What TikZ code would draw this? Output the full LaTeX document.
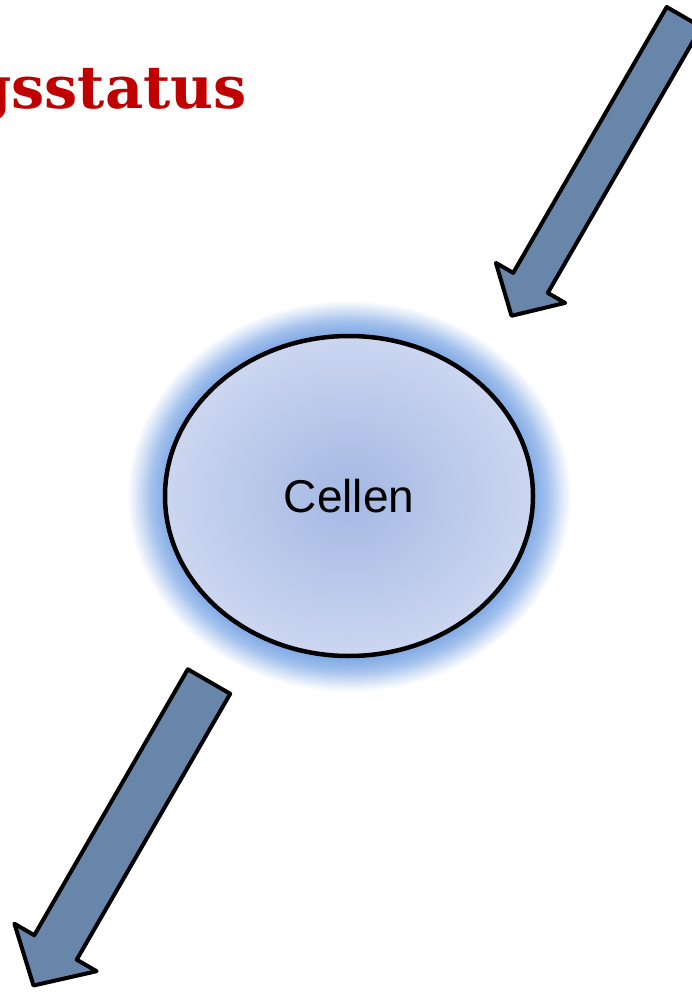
\documentclass[tikz,border=0pt]{standalone}
\usepackage{fontspec}
\usetikzlibrary{shapes.geometric}
\newfontfamily\titlefont{DejaVu Serif}
\newfontfamily\labelfont{Liberation Sans}
\definecolor{titlered}{RGB}{192,0,0}
\definecolor{arrowfill}{RGB}{104,134,170}
\definecolor{glowblue}{RGB}{132,172,230}
\definecolor{cellin}{RGB}{164,184,228}
\definecolor{cellout}{RGB}{204,214,240}
% soft halo round the cell and the cell's own fill (25bp = edge of the path)
\pgfdeclareradialshading{cellglow}{\pgfpoint{0bp}{0bp}}{color(0bp)=(glowblue); color(20.8bp)=(glowblue); color(22.3bp)=(glowblue!75!white); color(23.7bp)=(glowblue!35!white); color(25bp)=(white); color(50bp)=(white)}
\pgfdeclareradialshading{cellbody}{\pgfpoint{0bp}{0bp}}{color(0bp)=(cellin); color(25bp)=(cellout); color(50bp)=(cellout)}
\begin{document}
\begin{tikzpicture}[x=1pt,y=-1pt,
  blockarrow/.style={draw=black, fill=arrowfill, line width=4pt, line join=round},
  cell/.style={ellipse, draw=black, line width=4.5pt, minimum width=368pt,
    minimum height=320pt, inner sep=0pt, shading=cellbody,
    font=\labelfont\fontsize{46}{46}\selectfont},
  heading/.style={anchor=base east, inner sep=0pt, text=titlered,
    font=\titlefont\bfseries\fontsize{59}{59}\selectfont}]
\useasboundingbox (0,0) rectangle (692,992);
\fill[white] (0,0) rectangle (692,992);
\clip (0,0) rectangle (692,992);

% title (runs off the left edge)
\node[heading] (title) at (247,109) {gsstatus};

% incoming arrow, top right
\coordinate (inTailL) at (666.7,7);
\coordinate (inTailR) at (701.3,27);
\draw[blockarrow] (inTailL) -- (513.2,272.9) -- (495.9,262.9) -- (511.5,315.8)
  -- (565.1,302.9) -- (547.8,292.9) -- (inTailR) -- cycle;

% cell with halo
\shade[shading=cellglow] (349,496) ellipse [x radius=222, y radius=196];
\node[cell] (cell) at (349,496) {Cellen};

% outgoing arrow, bottom left
\coordinate (outTailL) at (187.8,669.25);
\coordinate (outTailR) at (230.2,693.75);
\draw[blockarrow] (outTailL) -- (34.3,935.2) -- (14.4,923.7) -- (33.5,985.5)
  -- (96.6,971.2) -- (76.7,959.7) -- (outTailR) -- cycle;
\end{tikzpicture}
\end{document}
